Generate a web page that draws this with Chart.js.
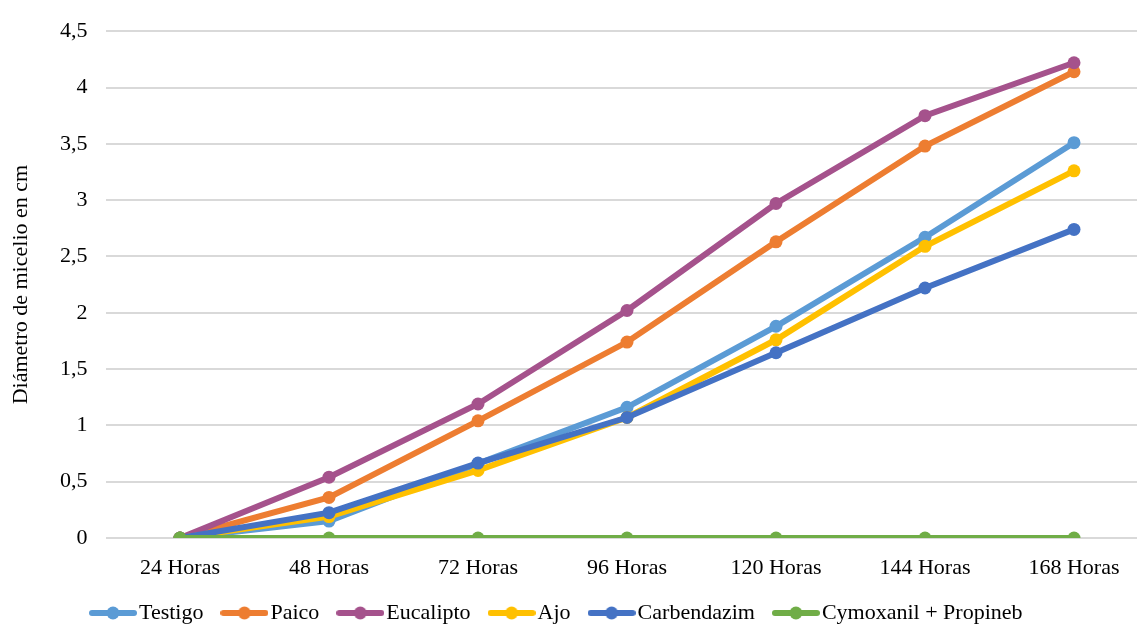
<!DOCTYPE html>
<html>
<head>
<meta charset="utf-8">
<script src="https://cdn.jsdelivr.net/npm/chart.js@4"></script>
<style>
  html, body { margin: 0; padding: 0; background: #fff; overflow: hidden; }
  #wrap { width: 1137px; height: 626px; overflow: hidden; }
</style>
</head>
<body>
<div id="wrap"><canvas id="chart" width="1160" height="634"></canvas></div>
<script>
const categories = ["24 Horas", "48 Horas", "72 Horas", "96 Horas", "120 Horas", "144 Horas", "168 Horas"];
const testigo = [0, 0.15, 0.66, 1.16, 1.88, 2.67, 3.51];
const paico = [0, 0.36, 1.04, 1.74, 2.63, 3.48, 4.14];
const eucalipto = [0, 0.54, 1.19, 2.02, 2.97, 3.75, 4.22];
const ajo = [0, 0.19, 0.60, 1.07, 1.76, 2.59, 3.26];
const carbendazim = [0, 0.225, 0.665, 1.07, 1.645, 2.22, 2.74];
const cymoxanil = [0, 0, 0, 0, 0, 0, 0];

const seriesNames = ["Testigo", "Paico", "Eucalipto", "Ajo", "Carbendazim", "Cymoxanil + Propineb"];
const seriesData = [testigo, paico, eucalipto, ajo, carbendazim, cymoxanil];
const colors = ["#5B9BD5", "#ED7D31", "#A5528C", "#FFC000", "#4472C4", "#70AD47"];

const FONT = "'Liberation Serif', 'Times New Roman', serif";
const SIZE = 22;

// small line + dot picture for the legend
function legendMark(color) {
  const c = document.createElement("canvas");
  c.width = 48; c.height = 14;
  const g = c.getContext("2d");
  g.strokeStyle = color;
  g.lineWidth = 6;
  g.lineCap = "round";
  g.beginPath(); g.moveTo(3, 7); g.lineTo(45, 7); g.stroke();
  g.fillStyle = color;
  g.beginPath(); g.arc(24, 7, 6.5, 0, Math.PI * 2); g.fill();
  return c;
}

const datasets = seriesNames.map((name, i) => ({
  label: name,
  data: seriesData[i],
  borderColor: colors[i],
  backgroundColor: colors[i],
  borderWidth: 6,
  pointRadius: 6.5,
  pointBorderWidth: 0,
  pointHoverRadius: 6.5,
  tension: 0,
  order: seriesNames.length - i
}));

const shiftLegend = {
  id: "shiftLegend",
  afterLayout(chart) {
    chart.legend.left -= 14;
    chart.legend.right -= 14;
  }
};

new Chart(document.getElementById("chart").getContext("2d"), {
  type: "line",
  data: { labels: categories, datasets: datasets },
  plugins: [shiftLegend],
  options: {
    responsive: false,
    animation: false,
    layout: { padding: { left: 0, right: 11.5, top: 22, bottom: 0 } },
    plugins: {
      tooltip: { enabled: false },
      legend: {
        position: "bottom",
        labels: {
          color: "#000",
          font: { family: FONT, size: SIZE },
          usePointStyle: true,
          pointStyleWidth: 30,
          padding: 26,
          generateLabels: chart => chart.data.datasets.map((ds, i) => ({
            text: ds.label,
            pointStyle: legendMark(ds.borderColor),
            fillStyle: ds.borderColor,
            strokeStyle: ds.borderColor,
            lineWidth: 0,
            hidden: false,
            datasetIndex: i
          }))
        }
      }
    },
    scales: {
      x: {
        offset: true,
        grid: { display: false, drawTicks: false },
        border: { display: false },
        ticks: { color: "#000", font: { family: FONT, size: SIZE }, padding: 17, maxRotation: 0 },
        afterFit: s => { s.height = 38; }
      },
      y: {
        min: 0,
        max: 4.5,
        ticks: {
          stepSize: 0.5,
          color: "#000",
          font: { family: FONT, size: SIZE },
          padding: 18,
          callback: v => String(v).replace(".", ",")
        },
        grid: { color: "#D9D9D9", lineWidth: 2, drawTicks: false },
        border: { display: false },
        title: {
          display: true,
          text: "Diámetro de micelio en cm",
          color: "#000",
          font: { family: FONT, size: SIZE },
          padding: { top: 8, bottom: 0 }
        },
        afterFit: s => { s.width = 105.5; }
      }
    }
  }
});
</script>
</body>
</html>
